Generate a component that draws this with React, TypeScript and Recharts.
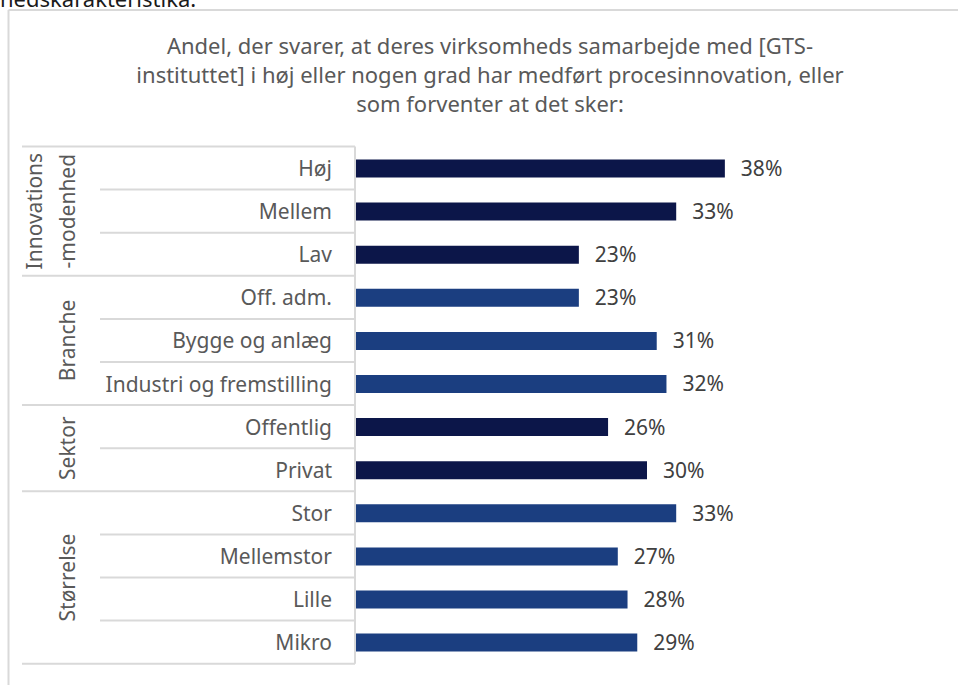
import React from 'react';
import { BarChart, Bar, XAxis, YAxis, Cell, LabelList } from 'recharts';

const categories = ['Høj', 'Mellem', 'Lav', 'Off. adm.', 'Bygge og anlæg', 'Industri og fremstilling', 'Offentlig', 'Privat', 'Stor', 'Mellemstor', 'Lille', 'Mikro'];
const values = [38, 33, 23, 23, 31, 32, 26, 30, 33, 27, 28, 29];
const groupIndex = [0, 0, 0, 1, 1, 1, 2, 2, 3, 3, 3, 3];
const groupLabels = [['Innovations', '-modenhed'], ['Branche'], ['Sektor'], ['Størrelse']];
const groupColors = ['#0c1649', '#1b3e80', '#0c1649', '#1b3e80'];
const titleLines = [
  'Andel, der svarer, at deres virksomheds samarbejde med [GTS-',
  'instituttet] i høj eller nogen grad har medført procesinnovation, eller',
  'som forventer at det sker:',
];
const cutText = 'hedskarakteristika.';

const data = categories.map((name, i) => ({ name, value: values[i], group: groupIndex[i] }));

const FONT = "'Noto Sans', sans-serif";
const W = 958;
const H = 685;
const AXIS_X = 355;
const LABEL_RIGHT = 332;
const INNER_X = 100;
const OUTER_X = 22;
const LINE_COLOR = '#d9d9d9';
const TEXT_COLOR = '#595959';
const FS = 21;

function CategoryTick(props: any) {
  const { y, payload, index } = props;
  const half = payload && typeof payload.offset === 'number' && payload.offset > 0 ? payload.offset : 21.55;
  const i = index as number;
  const g = groupIndex[i];
  const isGroupStart = i === 0 || groupIndex[i - 1] !== g;
  const isGroupEnd = i === categories.length - 1 || groupIndex[i + 1] !== g;
  const count = groupIndex.filter((v) => v === g).length;
  const groupCenter = y + (count - 1) * half;
  const lines = groupLabels[g];
  return (
    <g>
      {i === 0 && (
        <line x1={OUTER_X} x2={AXIS_X} y1={y - half} y2={y - half} stroke={LINE_COLOR} strokeWidth={2} />
      )}
      <line
        x1={isGroupEnd ? OUTER_X : INNER_X}
        x2={AXIS_X}
        y1={y + half}
        y2={y + half}
        stroke={LINE_COLOR}
        strokeWidth={2}
      />
      <text
        x={LABEL_RIGHT}
        y={y}
        textAnchor="end"
        dominantBaseline="central"
        fill={TEXT_COLOR}
        fontSize={FS}
        fontFamily={FONT}
      >
        {payload.value}
      </text>
      {isGroupStart &&
        lines.map((t, k) => {
          const cx = lines.length === 2 ? (k === 0 ? 34 : 67) : 67;
          return (
            <text
              key={k}
              x={cx}
              y={groupCenter}
              transform={`rotate(-90, ${cx}, ${groupCenter})`}
              textAnchor="middle"
              dominantBaseline="central"
              fill={TEXT_COLOR}
              fontSize={FS}
              fontFamily={FONT}
            >
              {t}
            </text>
          );
        })}
    </g>
  );
}

export default function App() {
  return (
    <div style={{ position: 'absolute', left: 0, top: 0, width: W, height: H, background: '#fff', overflow: 'hidden' }}>
      <BarChart
        width={W}
        height={H}
        data={data}
        layout="vertical"
        margin={{ top: 146.5, right: 19, bottom: 21.3, left: 0 }}
        barCategoryGap={0}
      >
        <XAxis type="number" domain={[0, 60]} hide />
        <YAxis
          type="category"
          dataKey="name"
          width={AXIS_X}
          interval={0}
          tickLine={false}
          axisLine={{ stroke: LINE_COLOR, strokeWidth: 2 }}
          tick={<CategoryTick />}
        />
        <Bar dataKey="value" barSize={18} isAnimationActive={false}>
          {data.map((d, i) => (
            <Cell key={i} fill={groupColors[d.group]} />
          ))}
          <LabelList
            dataKey="value"
            position="right"
            offset={16}
            formatter={(v: any) => `${v}%`}
            fill="#404040"
            fontSize={FS}
            fontFamily={FONT}
          />
        </Bar>
      </BarChart>
      <svg width={W} height={H} style={{ position: 'absolute', left: 0, top: 0, pointerEvents: 'none' }}>
        <text x={0} y={7} fill="#1a1a1a" fontSize={22} fontFamily={FONT}>
          {cutText}
        </text>
        <line x1={8.5} x2={8.5} y1={10} y2={H} stroke={LINE_COLOR} strokeWidth={2} />
        <line x1={8.5} x2={W} y1={10} y2={10} stroke={LINE_COLOR} strokeWidth={2} />
        {titleLines.map((t, k) => (
          <text
            key={k}
            x={490}
            y={45 + k * 29}
            textAnchor="middle"
            dominantBaseline="central"
            fill={TEXT_COLOR}
            fontSize={22}
            fontFamily={FONT}
          >
            {t}
          </text>
        ))}
      </svg>
    </div>
  );
}
